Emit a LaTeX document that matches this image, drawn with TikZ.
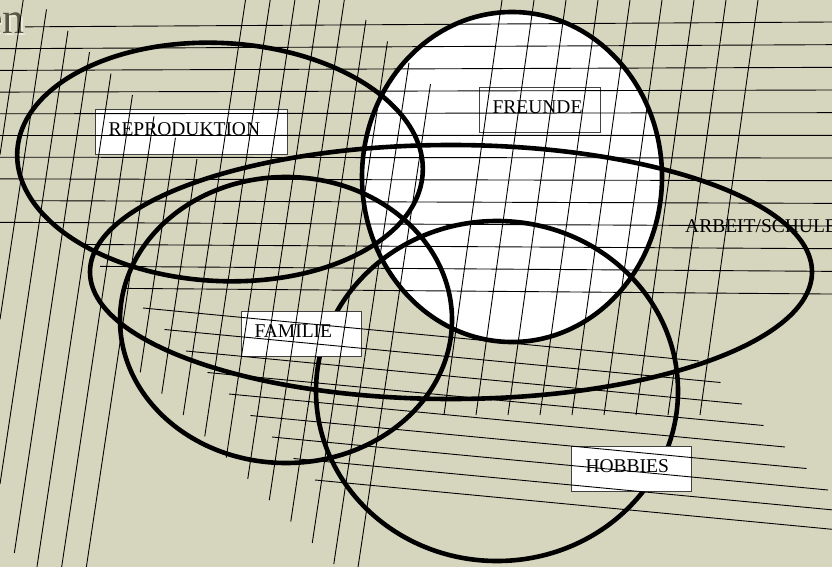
\documentclass[tikz,border=0pt]{standalone}
\usepackage{fontspec}
\setmainfont{Liberation Serif}
\definecolor{bgcol}{RGB}{214,213,190}
\definecolor{titlecol}{RGB}{88,86,68}
\definecolor{titleshadow}{RGB}{236,236,222}
\begin{document}
\begin{tikzpicture}[x=1pt,y=-1pt,
  outline/.style={line width=4.6pt, black},
  hatch/.style={line width=0.9pt, black},
  labelfont/.style={font=\fontsize{19.5}{23}\selectfont},
  labelbox/.style={labelfont, draw=black!75, line width=1pt, fill=white,
    inner xsep=0pt, inner ysep=0pt, text height=26pt, text depth=19pt,
    anchor=north west},
  titletext/.style={font=\fontsize{44}{48}\selectfont, anchor=base east, inner sep=0pt}]
\useasboundingbox (0,0) rectangle (832,567);
\clip (0,0) rectangle (832,567);
\fill[bgcol] (0,0) rectangle (832,567);

% title fragment
\node[titletext, text=titleshadow] (titleshadow) at (26.5,35.5) {en};
\node[titletext, text=titlecol] (title) at (25,34) {en};

% white fill of FREUNDE
\fill[white] (512,177) ellipse [x radius=150, y radius=165];

% ellipse outlines
\draw[outline, rotate around={-3:(220,162)}] (220,162) ellipse [x radius=203, y radius=119];
\draw[outline] (512,177) ellipse [x radius=150, y radius=165];
\draw[outline] (451,272) ellipse [x radius=361, y radius=127];
\draw[outline] (286,320) ellipse [x radius=166, y radius=143];
\draw[outline] (497,391) ellipse [x radius=181, y radius=170];

% labels
\node[labelbox] (repro) at (95,109) {\makebox[192pt][l]{\hspace{13pt}REPRODUKTION}};
\node[labelbox] (freunde) at (479,87) {\makebox[121pt][l]{\hspace{13pt}FREUNDE}};
\node[labelbox] (familie) at (241,311) {\makebox[120pt][l]{\hspace{13pt}FAMILIE}};
\node[labelbox] (hobbies) at (571,446) {\makebox[120pt][l]{\hspace{14pt}HOBBIES}};
\node[labelfont, anchor=base west, inner sep=0pt] (arbeit) at (685,232) {ARBEIT/SCHULE};

% hatching: near-vertical grid lines
\foreach \m/\ya/\yb in {0/0/154.7, 1/9.4/319.3, 2/30.8/484, 3/52.2/553,
  4/73.6/567, 5/95/567, 6/116.4/567, 7/137.8/372.4, 8/159.2/393.7,
  9/0/415, 10/0/436.3, 11/0/457.6, 12/0/478.9, 13/0/500.2,
  14/20/521.5, 15/41.4/542.8, 16/62.8/564.1, 17/84.2/567}
  {\draw[hatch] ({23.2+24.7*\m-0.15*\ya},\ya) -- ({23.2+24.7*\m-0.15*\yb},\yb);}

% hatching: right near-vertical lines
\foreach \n in {0,...,8}
  {\draw[hatch] ({502+32*\n},0) -- ({444+32*\n},415);}

% hatching: horizontal lines
\foreach \k/\xl in {0/25, 1/0, 2/0, 3/0, 4/0, 5/0, 6/0, 7/0, 8/35, 9/0, 10/78, 11/100, 12/122}
  {\draw[hatch] (\xl,{27+21.7*\k+((22+22.67*\k)-(27+21.7*\k))*\xl/832}) -- (832,{22+22.67*\k});}

% hatching: descending lines
\foreach \k in {0,...,8}
  {\draw[hatch] ({143+21.5*\k},{308+21.5*\k}) -- ({699+21.5*\k},{361+21.5*\k});}
\end{tikzpicture}
\end{document}
